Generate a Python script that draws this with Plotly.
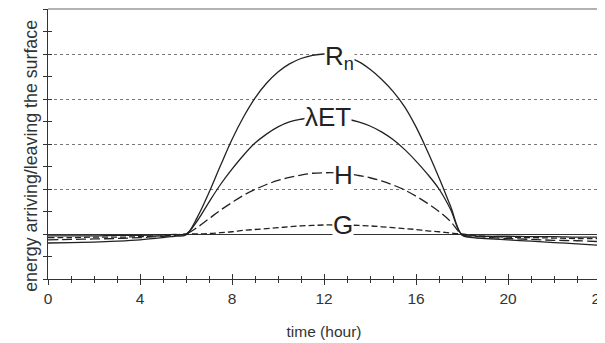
import plotly.graph_objects as go

# time of day (hour)
hours = [0, 1, 2, 3, 4, 5, 5.5,
         6, 6.5, 7, 7.5, 8, 8.5, 9, 9.5, 10, 10.5, 11, 11.5, 12,
         12.5, 13, 13.5, 14, 14.5, 15, 15.5, 16, 16.5, 17, 17.5, 18,
         18.5, 19, 20, 21, 22, 23, 24]

# net radiation
rn = [-0.20, -0.19, -0.18, -0.16, -0.13, -0.08, -0.05,
      -0.02, 0.38, 0.92, 1.52, 2.10, 2.60, 3.02, 3.35, 3.60, 3.78, 3.90, 3.97, 4.00,
      3.98, 3.93, 3.83, 3.66, 3.44, 3.17, 2.83, 2.38, 1.84, 1.25, 0.62, -0.02,
      -0.08, -0.10, -0.13, -0.16, -0.19, -0.22, -0.25]

# latent heat flux
let = [-0.04, -0.04, -0.04, -0.03, -0.03, -0.02, -0.01,
       0.00, 0.30, 0.71, 1.10, 1.44, 1.75, 2.02, 2.22, 2.38, 2.49, 2.55, 2.59, 2.60,
       2.59, 2.55, 2.49, 2.40, 2.27, 2.10, 1.88, 1.62, 1.33, 1.00, 0.55, -0.02,
       -0.04, -0.05, -0.05, -0.06, -0.06, -0.07, -0.07]

# sensible heat flux
h = [-0.13, -0.12, -0.11, -0.10, -0.08, -0.05, -0.03,
     0.00, 0.15, 0.34, 0.53, 0.70, 0.86, 0.99, 1.10, 1.19, 1.26, 1.31, 1.35, 1.36,
     1.36, 1.34, 1.30, 1.25, 1.18, 1.09, 0.98, 0.84, 0.68, 0.50, 0.28, -0.01,
     -0.05, -0.07, -0.10, -0.12, -0.14, -0.15, -0.17]

# soil heat flux
g = [-0.08, -0.08, -0.07, -0.07, -0.06, -0.04, -0.02,
     0.00, 0.00, 0.01, 0.03, 0.05, 0.08, 0.10, 0.12, 0.14, 0.16, 0.18, 0.19, 0.20,
     0.20, 0.20, 0.19, 0.18, 0.16, 0.14, 0.12, 0.10, 0.07, 0.05, 0.02, 0.00,
     -0.03, -0.05, -0.07, -0.08, -0.09, -0.10, -0.10]

series_names = ["R<sub>n</sub>", "λET", "H", "G"]
label_x = [12.67, 12.17, 12.83, 12.83]
label_y = [3.93, 2.60, 1.31, 0.20]

x_ticks = [0, 4, 8, 12, 16, 20, 24]

y_title = "energy arriving/leaving the surface"
x_title = "time (hour)"

ink = "#222222"
font_family = "Liberation Sans, Arial, sans-serif"

fig = go.Figure()
styles = [("solid", rn), ("solid", let), ("10px,4px", h), ("6px,3px", g)]
for (dash, vals), name in zip(styles, series_names):
    fig.add_trace(go.Scatter(x=hours, y=vals, mode="lines", name=name,
                             line=dict(color=ink, width=1.3, dash=dash,
                                       shape="spline", smoothing=1.0),
                             showlegend=False, hoverinfo="skip"))

# invisible trace to attach the inside-tick overlay axes
fig.add_trace(go.Scatter(x=[0, 24], y=[-1, 5], xaxis="x2", yaxis="y2",
                         mode="markers", marker=dict(opacity=0),
                         showlegend=False, hoverinfo="skip"))

for name, lx, ly in zip(series_names, label_x, label_y):
    fig.add_annotation(x=lx, y=ly, text=name, showarrow=False,
                       font=dict(size=26, color=ink, family=font_family),
                       bgcolor="white", borderpad=0)

# y-axis title (as annotation to allow vertical offset like the reference)
fig.add_annotation(xref="paper", yref="paper", x=-0.031, y=0.456,
                   text=y_title, textangle=-90, showarrow=False,
                   xanchor="center", yanchor="middle",
                   font=dict(size=17.8, color="#333333", family=font_family))

axis_common = dict(linecolor="#333333", linewidth=1.3, tickcolor="#333333",
                   automargin=False)

fig.update_layout(
    width=605, height=343,
    margin=dict(l=40, r=13, t=1, b=72),
    paper_bgcolor="white", plot_bgcolor="white",
    font=dict(family=font_family, size=15, color="#333333"),
    xaxis=dict(range=[0, 24], tickvals=x_ticks, ticktext=[str(t) for t in x_ticks],
               ticks="outside", ticklen=5, tickwidth=1.2,
               minor=dict(dtick=1, ticks="outside", ticklen=3, tickcolor="#333333"),
               showgrid=False, zeroline=False, showline=True,
               ticklabeloverflow="allow",
               title=dict(text=x_title, font=dict(size=15.5), standoff=20),
               tickfont=dict(size=15.5), **axis_common),
    yaxis=dict(range=[-1, 5], dtick=1, showticklabels=False,
               ticks="outside", ticklen=4, tickwidth=1.2,
               minor=dict(dtick=0.5, ticks="outside", ticklen=4, tickcolor="#333333"),
               showgrid=True, gridcolor="#777777", gridwidth=1.2, griddash="dot",
               zeroline=True, zerolinecolor="#333333", zerolinewidth=1.3,
               showline=True, **axis_common),
    xaxis2=dict(range=[0, 24], overlaying="x", anchor="y2", side="bottom",
                tickvals=x_ticks, ticks="inside", ticklen=5, tickwidth=1.2,
                tickcolor="#333333", automargin=False,
                minor=dict(dtick=1, ticks="inside", ticklen=3, tickcolor="#333333"),
                showticklabels=False, showgrid=False, zeroline=False, showline=False),
    yaxis2=dict(range=[-1, 5], overlaying="y", anchor="x2", side="left",
                dtick=1, ticks="inside", ticklen=4, tickwidth=1.2, tickcolor="#333333",
                automargin=False,
                minor=dict(dtick=0.5, ticks="inside", ticklen=4, tickcolor="#333333"),
                showticklabels=False, showgrid=False, zeroline=False, showline=False),
)

# light frame on top and right
fig.add_shape(type="line", xref="paper", yref="paper", x0=0, x1=1, y0=1, y1=1,
              line=dict(color="#999999", width=1.5))
fig.add_shape(type="line", xref="paper", yref="paper", x0=1, x1=1, y0=0, y1=1,
              line=dict(color="#999999", width=1.5))

fig.write_html("out.html")
